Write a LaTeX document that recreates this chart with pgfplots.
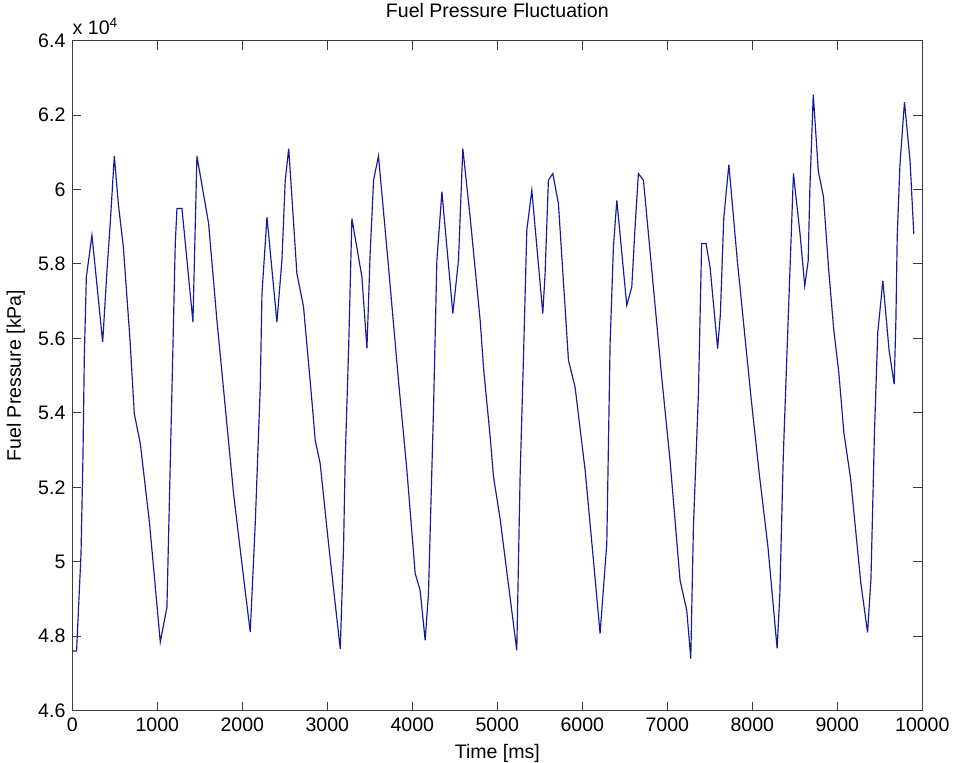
\documentclass[border=0pt]{standalone}
\usepackage{fontspec}
\setmainfont{Liberation Sans}
\usepackage{pgfplots}
\pgfplotsset{compat=1.18}
\definecolor{lineblue}{RGB}{25,25,160}
\definecolor{axgray}{RGB}{60,60,60}
\begin{document}
\begin{tikzpicture}
\begin{axis}[
scale only axis,width=434.8pt,height=342.7pt,
xmin=0,xmax=10000,ymin=46000,ymax=64000,
xtick={0,1000,...,10000},ytick={46000,48000,...,64000},
scaled x ticks=false,
scaled y ticks=base 10:-4,
ytick scale label code/.code={x 10\textsuperscript{#1}},
every y tick scale label/.style={at={(rel axis cs:0,1)},anchor=south west,inner sep=0pt,yshift=3pt},
/pgf/number format/1000 sep={},
/pgf/number format/assume math mode=true,
tick align=inside,xtick pos=both,ytick pos=both,
major tick length=4.6pt,
axis line style={axgray},tick style={axgray,line width=0.5pt},
title={Fuel Pressure Fluctuation},
title style={yshift=2pt},
xlabel={Time [ms]},ylabel={Fuel Pressure [kPa]},
]
\addplot[lineblue,line width=0.6pt] table {
t v
0 47600
50 47600
102 50200
125 52800
141 55500
165 57650
231 58770
357 55900
408 57830
447 59130
494 60900
541 59620
600 58460
679 55950
729 53980
800 53170
909 51020
1035 47840
1113 48780
1172 54600
1211 58550
1231 59490
1290 59490
1419 56440
1466 60900
1603 59090
1701 56490
1897 51830
1995 49950
2093 48110
2152 51020
2211 54690
2231 57200
2290 59260
2407 56440
2466 58100
2505 60250
2546 61100
2642 57740
2720 56850
2818 54340
2858 53260
2916 52640
3014 50490
3152 47660
3191 50390
3210 52720
3250 55680
3289 59220
3407 57650
3466 55730
3504 58280
3544 60250
3602 60900
3720 57920
3837 54870
3936 52460
4034 49680
4092 49230
4151 47890
4190 49140
4249 54070
4289 58100
4348 59940
4477 56670
4543 58100
4594 61100
4680 59260
4798 56490
4837 55230
4916 53350
4955 52280
5033 51150
5229 47620
5268 52280
5307 55410
5347 58910
5406 59980
5465 58460
5535 56670
5562 57740
5601 60250
5653 60430
5719 59620
5837 55410
5915 54690
6033 52460
6131 50040
6209 48070
6288 50490
6327 55860
6366 58460
6406 59710
6523 56890
6582 57380
6621 59000
6660 60430
6719 60250
6836 57380
6934 54960
7032 52720
7150 49500
7229 48690
7276 47400
7307 50930
7366 54520
7404 58550
7456 58550
7504 57890
7592 55730
7624 56640
7664 59230
7724 60670
7824 58080
7904 56260
7984 54430
8084 52320
8184 50400
8292 47670
8324 49150
8364 52800
8424 56640
8484 60430
8564 58750
8617 57410
8657 58080
8677 60010
8717 62550
8777 60480
8837 59810
8897 57890
8957 56260
9017 55100
9077 53470
9157 52220
9276 49440
9356 48100
9396 49540
9436 53380
9476 56160
9536 57550
9609 55680
9669 54770
9689 56450
9705 58750
9737 60670
9790 62350
9856 60770
9900 58800
};
\end{axis}
\pgfresetboundingbox
\path ([xshift=-37pt,yshift=-26.8pt]current axis.south west) rectangle ([xshift=15.7pt,yshift=20.8pt]current axis.north east);
\end{tikzpicture}
\end{document}
